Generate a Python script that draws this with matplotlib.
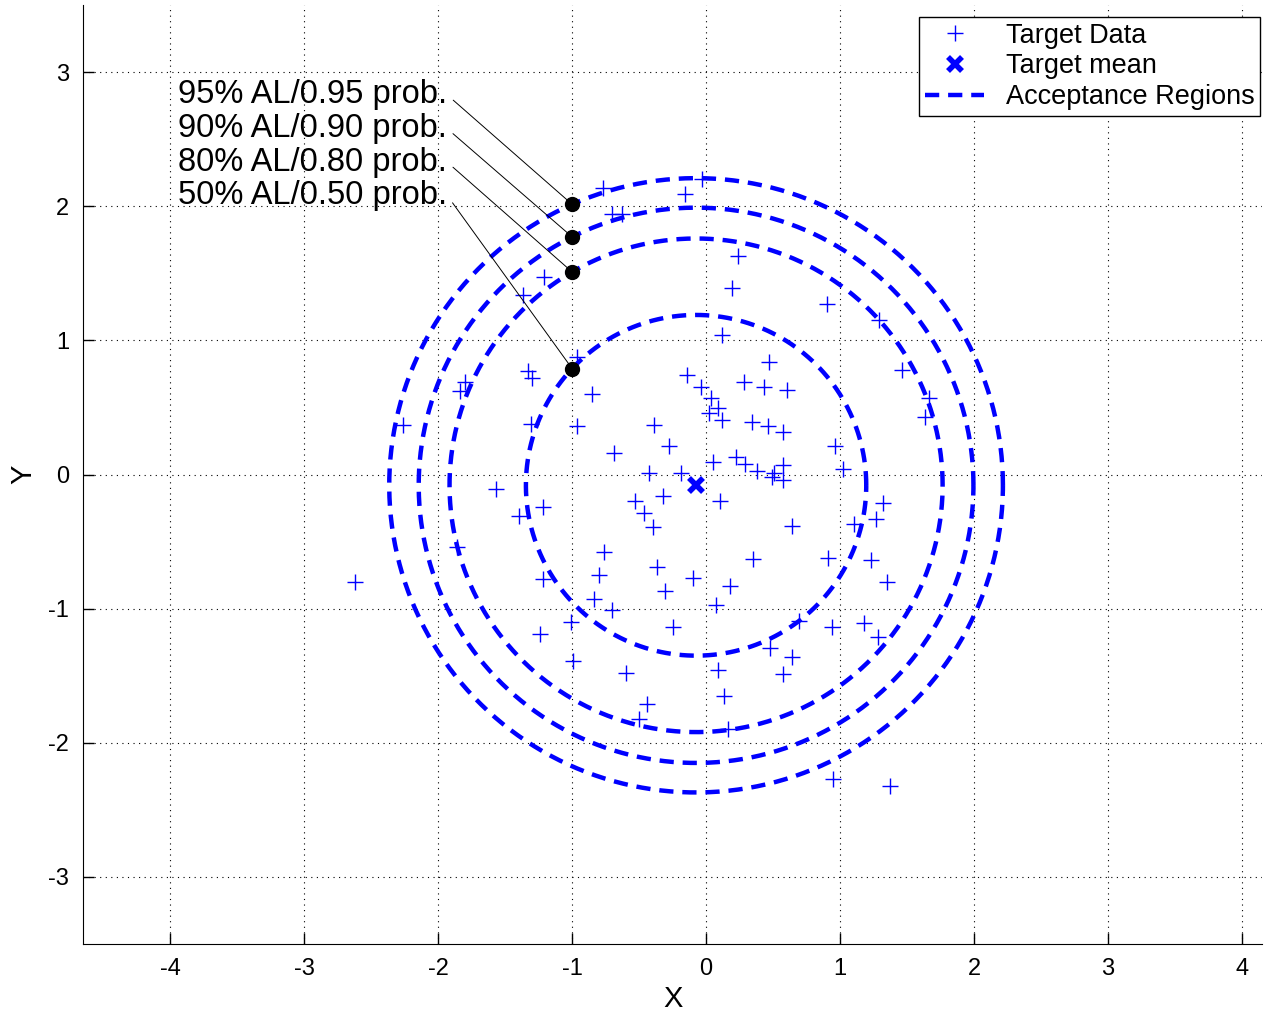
import numpy as np
import matplotlib.pyplot as plt

plt.rcParams['font.family'] = ['Liberation Sans', 'DejaVu Sans']
plt.rcParams['axes.unicode_minus'] = False

# target data points
target_x = [-0.77, -0.16, -0.03, -0.70, -0.63, 0.24, 0.19, 0.12, 0.47, -0.14,
            0.28, -0.96, -1.21, -1.37, -1.80, -1.33, -1.30, 0.90, 1.29, 1.46,
            -1.84, -2.26, -1.31, -1.57, -1.22, -1.40, -1.86, -1.22, -2.62, -0.85,
            0.43, 0.60, -0.04, 0.04, 0.09, 0.02, 0.12, -0.96, -0.39, 0.34,
            0.46, 0.57, -0.28, -0.69, 0.22, 0.05, 0.29, 0.38, 0.57, 0.51,
            0.49, 0.57, -0.43, -0.19, -0.32, -0.53, 0.10, -0.46, -0.40, -0.76,
            0.35, -0.37, -0.80, -0.10, 0.18, 1.66, 1.63, 0.96, 1.02, 1.32,
            1.27, 1.10, 0.64, 0.91, 1.23, 1.35, -1.24, -1.01, -0.99, -0.31,
            -0.84, -0.70, 0.07, -0.25, 0.48, 0.09, -0.60, 0.57, 0.64, 0.13,
            -0.44, -0.50, 0.16, 0.69, 0.94, 1.18, 1.28, 0.95, 1.37]
target_y = [2.14, 2.09, 2.20, 1.94, 1.94, 1.63, 1.39, 1.04, 0.84, 0.74,
            0.69, 0.88, 1.47, 1.34, 0.69, 0.77, 0.72, 1.27, 1.15, 0.78,
            0.62, 0.37, 0.38, -0.11, -0.24, -0.31, -0.54, -0.78, -0.80, 0.60,
            0.65, 0.63, 0.65, 0.57, 0.50, 0.46, 0.41, 0.36, 0.37, 0.39,
            0.36, 0.32, 0.21, 0.16, 0.13, 0.09, 0.08, 0.03, 0.07, 0.01,
            -0.02, -0.04, 0.01, 0.01, -0.16, -0.20, -0.20, -0.29, -0.39, -0.58,
            -0.63, -0.69, -0.75, -0.77, -0.83, 0.57, 0.43, 0.21, 0.04, -0.21,
            -0.33, -0.37, -0.38, -0.62, -0.64, -0.80, -1.19, -1.10, -1.39, -0.87,
            -0.93, -1.01, -0.97, -1.14, -1.29, -1.46, -1.48, -1.49, -1.36, -1.65,
            -1.71, -1.82, -1.90, -1.09, -1.14, -1.11, -1.21, -2.27, -2.32]
mean_x, mean_y = -0.075, -0.08

# acceptance regions
radii = [2.29, 2.07, 1.84, 1.27]
labels = ['95% AL/0.95 prob.', '90% AL/0.90 prob.', '80% AL/0.80 prob.', '50% AL/0.50 prob.']
label_y = [2.83, 2.58, 2.33, 2.08]

fig = plt.figure(figsize=(12.66, 10.23), dpi=100)
ax = fig.add_axes([0.0656, 0.0772, 0.9314, 0.9178])

ax.plot(target_x, target_y, '+', color='blue', markersize=12, markeredgewidth=1,
        label='Target Data')
ax.plot(mean_x, mean_y, 'x', color='blue', markersize=10, markeredgewidth=4,
        label='Target mean')

t = np.linspace(0, 2 * np.pi, 400)
for i, r in enumerate(radii):
    ax.plot(mean_x + r * np.cos(t), mean_y + r * np.sin(t), '--', color='blue',
            linewidth=3.2, dashes=(3.2, 2.0),
            label='Acceptance Regions' if i == 0 else None)

for r, lab, ly in zip(radii, labels, label_y):
    dy = np.sqrt(r ** 2 - (-1 - mean_x) ** 2)
    py = mean_y + dy
    ax.plot(-1, py, 'o', color='black', markersize=10, zorder=5)
    ax.annotate(lab, xy=(-1, py), xytext=(-3.94, ly), fontsize=23.5,
                va='center', ha='left',
                arrowprops=dict(arrowstyle='-', color='black', lw=0.7,
                                shrinkA=3, shrinkB=0, relpos=(1, 0.5)))

ax.set_xlim(-4.65, 4.15)
ax.set_ylim(-3.5, 3.5)
ax.set_xticks(range(-4, 5))
ax.set_yticks(range(-3, 4))
ax.grid(True, linestyle=(0, (1, 4)), color='black', linewidth=0.8)
ax.tick_params(direction='in', length=8, width=1, labelsize=17, pad=10)
ax.spines['top'].set_visible(False)
ax.spines['right'].set_visible(False)
ax.set_xlabel('X', fontsize=21, labelpad=4)
ax.set_ylabel('Y', fontsize=21, labelpad=8)

leg = ax.legend(loc='upper right', fontsize=19.5, fancybox=False, edgecolor='black',
                framealpha=1, borderaxespad=0.2, handlelength=2.2,
                labelspacing=0.18, borderpad=0.2, bbox_to_anchor=(1.003, 0.993))
leg.get_frame().set_linewidth(1)

plt.savefig('out.png', dpi=100)
